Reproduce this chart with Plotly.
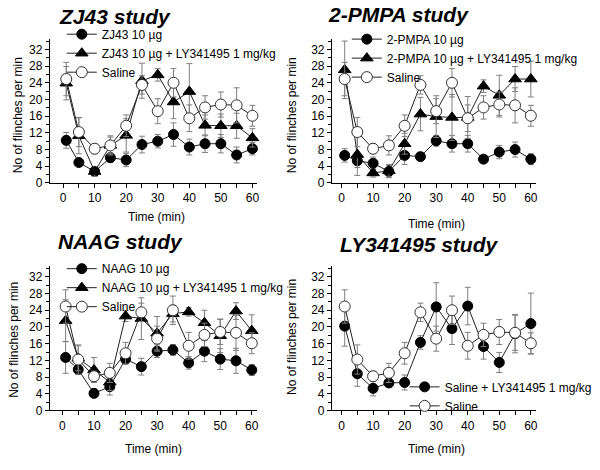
import plotly.graph_objects as go

# ---------------- data ----------------
time_min = [1, 5, 10, 15, 20, 25, 30, 35, 40, 45, 50, 55, 60]

saline = [24.9, 12.2, 8.2, 9.0, 13.7, 23.5, 17.2, 24.0, 15.5, 18.1, 18.8, 18.6, 16.1]
saline_err = [4.0, 3.5, 1.2, 2.3, 2.6, 2.2, 3.0, 3.4, 3.2, 2.8, 3.0, 4.2, 2.5]

zj43 = [10.2, 4.9, 2.75, 6.05, 5.5, 9.2, 10.0, 11.6, 8.6, 9.4, 9.4, 6.7, 8.2]
zj43_err = [1.9, 0.6, 1.0, 1.1, 1.6, 2.0, 1.6, 2.8, 1.9, 2.1, 2.2, 1.9, 1.5]
zj43_ly = [23.9, 11.3, 2.75, 9.0, 11.4, 24.5, 25.9, 19.4, 21.9, 13.8, 13.7, 13.7, 10.8]
zj43_ly_err = [4.0, 4.3, 1.2, 2.0, 4.0, 4.2, 1.5, 4.0, 6.7, 2.5, 2.8, 3.0, 2.2]

pmpa = [6.6, 5.3, 4.7, 2.75, 6.6, 6.3, 10.1, 9.4, 9.4, 5.7, 7.4, 8.0, 5.7]
pmpa_err = [1.6, 1.6, 1.5, 1.5, 2.2, 0.8, 1.3, 2.0, 2.0, 0.8, 1.6, 1.8, 1.3]
pmpa_ly = [27.1, 6.8, 2.4, 2.9, 9.4, 16.5, 15.9, 15.7, 15.7, 23.2, 21.0, 24.9, 24.9]
pmpa_ly_err = [6.9, 5.0, 1.0, 1.5, 2.5, 4.0, 5.0, 5.5, 5.0, 1.5, 4.8, 3.0, 4.3]

naag = [12.7, 9.8, 4.1, 5.7, 12.3, 10.5, 14.2, 14.5, 11.4, 14.2, 12.3, 11.9, 9.7]
naag_err = [3.8, 1.0, 1.0, 2.0, 1.0, 2.0, 1.5, 1.3, 1.5, 2.5, 2.5, 3.0, 1.3]
naag_ly = [21.5, 12.5, 9.7, 6.8, 22.6, 22.0, 18.5, 23.2, 23.6, 21.0, 17.9, 23.8, 19.1]
naag_ly_err = [5.0, 3.0, 3.0, 2.0, 1.3, 5.0, 4.0, 2.0, 1.0, 3.0, 4.0, 2.0, 3.8]

ly = [20.2, 8.8, 5.3, 6.6, 6.7, 16.3, 24.8, 19.6, 25.0, 15.3, 11.5, 18.4, 20.8]
ly_err = [4.8, 3.0, 1.8, 1.0, 1.8, 1.6, 5.8, 3.8, 4.5, 3.0, 2.4, 4.6, 7.3]

panel_titles = ["ZJ43 study", "2-PMPA study", "NAAG study", "LY341495 study"]
x_ticks = [0, 10, 20, 30, 40, 50, 60]
y_ticks = [0, 4, 8, 12, 16, 20, 24, 28, 32]

FONT = "Arial, Liberation Sans, sans-serif"
LINE = "#222222"
ERR = "#7f7f7f"

fig = go.Figure()


def add_series(y, err, name, kind, ax, legend):
    if kind == "filled":
        marker = dict(symbol="circle", size=10, color="black",
                      line=dict(color="black", width=1))
    elif kind == "triangle":
        marker = dict(symbol="triangle-up", size=11, color="black",
                      line=dict(color="black", width=1))
    else:
        marker = dict(symbol="circle", size=11, color="white",
                      line=dict(color="#333333", width=1))
    fig.add_trace(go.Scatter(
        x=time_min, y=y, name=name, mode="lines+markers",
        line=dict(color=LINE, width=1), marker=marker,
        error_y=dict(type="data", array=err, visible=True,
                     color=ERR, thickness=1, width=3),
        xaxis="x" + ("" if ax == 1 else str(ax)),
        yaxis="y" + ("" if ax == 1 else str(ax)),
        legend=legend, cliponaxis=False))


# Panel 1
add_series(zj43, zj43_err, "ZJ43 10 µg", "filled", 1, "legend")
add_series(zj43_ly, zj43_ly_err, "ZJ43 10 µg + LY341495 1 mg/kg", "triangle", 1, "legend")
add_series(saline, saline_err, "Saline", "open", 1, "legend")
# Panel 2
add_series(pmpa, pmpa_err, "2-PMPA 10 µg", "filled", 2, "legend2")
add_series(pmpa_ly, pmpa_ly_err, "2-PMPA 10 µg + LY341495 1 mg/kg", "triangle", 2, "legend2")
add_series(saline, saline_err, "Saline", "open", 2, "legend2")
# Panel 3
add_series(naag, naag_err, "NAAG 10 µg", "filled", 3, "legend3")
add_series(naag_ly, naag_ly_err, "NAAG 10 µg + LY341495 1 mg/kg", "triangle", 3, "legend3")
add_series(saline, saline_err, "Saline", "open", 3, "legend3")
# Panel 4
add_series(ly, ly_err, "Saline + LY341495 1 mg/kg", "filled", 4, "legend4")
add_series(saline, saline_err, "Saline", "open", 4, "legend4")

W, H = 600, 470


def px(xp):
    return xp / W


def py(yp):
    return 1 - yp / H


def xaxis(dom, rng, anchor):
    return dict(domain=dom, range=rng, anchor=anchor, showgrid=False, zeroline=False,
                showline=True, linecolor="black", linewidth=1,
                ticks="outside", ticklen=4, tickcolor="black", tickwidth=1,
                tickvals=x_ticks, tickfont=dict(family=FONT, size=12, color="black"),
                minor=dict(dtick=5, tick0=0, ticks="outside", ticklen=4, tickcolor="black"))


def yaxis(dom, rng, anchor):
    return dict(domain=dom, range=rng, anchor=anchor, showgrid=False, zeroline=False,
                showline=True, linecolor="black", linewidth=1,
                ticks="outside", ticklen=4, tickcolor="black", tickwidth=1,
                tickvals=y_ticks, tickfont=dict(family=FONT, size=12, color="black"),
                minor=dict(dtick=2, tick0=0, ticks="outside", ticklen=3, tickcolor="black"))


left_dom = [px(50), px(258)]
right_dom = [px(333), px(538)]
top_dom = [py(185.7), py(40)]
bot_dom = [py(416.7), py(270)]


def legend_cfg(xp, yp):
    return dict(x=px(xp), y=py(yp), xanchor="left", yanchor="top",
                bgcolor="rgba(0,0,0,0)", borderwidth=0,
                font=dict(family=FONT, size=12, color="black"))


annotations = []
title_pos = [(57, 17), (327, 15), (56, 245), (339, 248)]
for txt, (xp, yp) in zip(panel_titles, title_pos):
    annotations.append(dict(text="<b><i>" + txt + "</i></b>", x=px(xp), y=py(yp),
                            xref="paper", yref="paper", xanchor="left", yanchor="middle",
                            showarrow=False, font=dict(family=FONT, size=21, color="black")))
for xp, yp in [(157, 220), (438, 227), (154, 456), (438, 456)]:
    annotations.append(dict(text="Time (min)", x=px(xp), y=py(yp), xref="paper", yref="paper",
                            xanchor="center", yanchor="middle", showarrow=False,
                            font=dict(family=FONT, size=12, color="black")))
for xp, yp in [(18, 117), (293, 117), (14, 345), (293, 342)]:
    annotations.append(dict(text="No of flinches per min", x=px(xp), y=py(yp),
                            xref="paper", yref="paper", xanchor="center", yanchor="middle",
                            textangle=-90, showarrow=False,
                            font=dict(family=FONT, size=12, color="black")))

fig.update_layout(
    width=W, height=H, margin=dict(l=0, r=0, t=0, b=0),
    paper_bgcolor="white", plot_bgcolor="white",
    showlegend=True,
    xaxis=xaxis(left_dom, [-4.2, 61.5], "y"),
    yaxis=yaxis(top_dom, [0, 34.4], "x"),
    xaxis2=xaxis(right_dom, [-3.06, 61.7], "y2"),
    yaxis2=yaxis(top_dom, [0, 34.4], "x2"),
    xaxis3=xaxis(left_dom, [-4.0, 61.7], "y3"),
    yaxis3=yaxis(bot_dom, [0, 34.6], "x3"),
    xaxis4=xaxis(right_dom, [-3.06, 61.7], "y4"),
    yaxis4=yaxis(bot_dom, [0, 34.6], "x4"),
    legend=legend_cfg(62, 20),
    legend2=legend_cfg(348, 25),
    legend3=legend_cfg(62, 258),
    legend4=legend_cfg(406, 378),
    annotations=annotations,
)

fig.write_html("out.html",
               config={"displayModeBar": False},
               post_script="document.body.style.margin='0';"
                           "document.documentElement.style.overflow='hidden';")
